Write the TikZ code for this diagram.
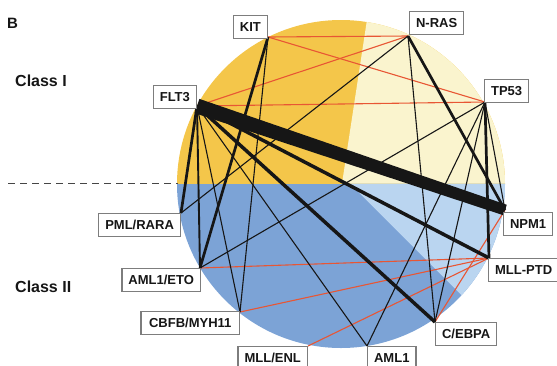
\documentclass[tikz,border=0pt]{standalone}
\usepackage{fontspec}
\setmainfont{Liberation Sans}
\usetikzlibrary{calc}
\definecolor{ydark}{RGB}{244,198,74}
\definecolor{ylight}{RGB}{250,244,206}
\definecolor{bdark}{RGB}{124,163,214}
\definecolor{blight}{RGB}{186,213,240}
\definecolor{redl}{RGB}{232,86,52}
\definecolor{boxgray}{RGB}{125,125,125}
\definecolor{inkc}{RGB}{22,22,22}
\begin{document}
\begin{tikzpicture}[x=1pt,y=-1pt,
  lab/.style={draw=boxgray, line width=1.2pt, fill=white, text=inkc,
    font=\bfseries\fontsize{13}{15}\selectfont, inner xsep=6.5pt, inner ysep=0pt,
    minimum height=23pt, text height=9.5pt, text depth=0pt},
  wA/.style={draw=inkc, line width=1.1pt},
  wB/.style={draw=inkc, line width=1.9pt},
  wC/.style={draw=inkc, line width=2.7pt},
  wD/.style={draw=inkc, line width=3.5pt},
  redc/.style={draw=redl, line width=1.1pt},
  classlab/.style={font=\bfseries\fontsize{16}{18}\selectfont, text=inkc, anchor=west, inner sep=0pt}]
\useasboundingbox (0,0) rectangle (557,365);
% background disc
\begin{scope}
  \clip (341,184) circle (164pt);
  \fill[ydark] (170,183.5) rectangle (515,10);
  \fill[ylight] (342,183.5) -- (370,0) -- (520,0) -- (520,183.5) -- cycle;
  \fill[bdark] (170,183.5) rectangle (520,360);
  \fill[blight] (350,183.5) -- (530,363.5) -- (530,183.5) -- cycle;
\end{scope}
% dashed separator
\coordinate (dsA) at (8,183.5);
\coordinate (dsB) at (178,183.5);
\draw[inkc!80, line width=1.8pt, dash pattern=on 7pt off 5pt] (dsA) -- (dsB);
% anchor points on the circle
\coordinate (kit) at (268,37);
\coordinate (nras) at (408,36);
\coordinate (tp53) at (485,102);
\coordinate (flt3) at (197,106);
\coordinate (npm1) at (505,210);
\coordinate (mllptd) at (489,258);
\coordinate (cebpa) at (435,322);
\coordinate (aml1) at (367,346);
\coordinate (mllenl) at (308,346);
\coordinate (cbfb) at (240,312);
\coordinate (amleto) at (200,268);
\coordinate (pml) at (181,213);
% red connectors
\draw[redc] (kit) -- (nras);
\draw[redc] (kit) -- (tp53);
\draw[redc] (flt3) -- (nras);
\draw[redc] (flt3) -- (tp53);
\draw[redc] (amleto) -- (mllptd);
\draw[redc] (cbfb) -- (mllptd);
\draw[redc] (mllenl) -- (mllptd);
\draw[redc] (cebpa) -- (npm1);
% black connectors
\draw[wA] (flt3) -- (cbfb);
\draw[wA] (flt3) -- (aml1);
\draw[wA] (kit) -- (cbfb);
\draw[wA] (nras) -- (pml);
\draw[wA] (nras) -- (cebpa);
\draw[wA] (tp53) -- (amleto);
\draw[wA] (tp53) -- (aml1);
\draw[wA] (tp53) -- (cebpa);
\draw[wA] (tp53) -- (npm1);
\draw[wB] (flt3) -- (amleto);
\draw[wC] (flt3) -- (pml);
\draw[wC] (tp53) -- (mllptd);
\draw[wC] (kit) -- (amleto);
\draw[wC] (nras) -- (npm1);
\draw[wD] (flt3) -- (mllptd);
\draw[wD] (flt3) -- (cebpa);
\fill[inkc] ($(flt3)!7.5pt!90:(npm1)$) -- ($(npm1)!5.5pt!-90:(flt3)$)
  -- ($(npm1)!5.5pt!90:(flt3)$) -- ($(flt3)!7.5pt!-90:(npm1)$) -- cycle;
% labels
\node[lab, anchor=south east] (kitL) at (268,39) {KIT};
\node[lab, anchor=south west] (nrasL) at (409,35) {N-RAS};
\node[lab, anchor=south west] (tp53L) at (484,103) {TP53};
\node[lab, anchor=south east] (flt3L) at (197,109) {FLT3};
\node[lab, anchor=north west] (npm1L) at (503,212) {NPM1};
\node[lab, anchor=north west] (mllptdL) at (488,258) {MLL-PTD};
\node[lab, anchor=north west] (cebpaL) at (435,322) {C/EBPA};
\node[lab, anchor=north west] (aml1L) at (367,346) {AML1};
\node[lab, anchor=north east] (mllenlL) at (308,346) {MLL/ENL};
\node[lab, anchor=north east, inner xsep=8pt] (cbfbL) at (240,311) {CBFB/MYH11};
\node[lab, anchor=north east] (amletoL) at (201,268) {AML1/ETO};
\node[lab, anchor=north east] (pmlL) at (181,213) {PML/RARA};
% titles
\node[classlab, font=\bfseries\fontsize{15}{17}\selectfont] (bL) at (7,23) {B};
\node[classlab] (c1L) at (15,81) {Class I};
\node[classlab] (c2L) at (15,287) {Class II};
\end{tikzpicture}
\end{document}
